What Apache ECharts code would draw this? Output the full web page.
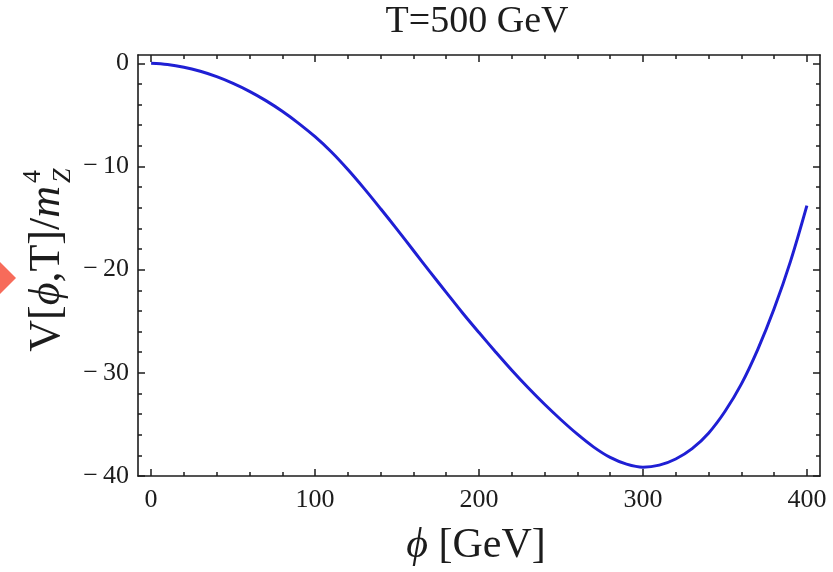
<!DOCTYPE html>
<html>
<head>
<meta charset="utf-8">
<script src="https://cdn.jsdelivr.net/npm/echarts@6/dist/echarts.min.js"></script>
<style>
  html, body { margin: 0; padding: 0; background: #ffffff; }
  #chart { width: 833px; height: 572px; }
</style>
</head>
<body>
<div id="chart"></div>
<script>
// Effective potential at T = 500 GeV, sampled along the field value phi
const phiValues = [
  0, 10, 20, 30, 40, 50, 60, 70, 80, 90,
  100, 110, 120, 130, 140, 150, 160, 170, 180, 190,
  200, 210, 220, 230, 240, 250, 260, 270, 280, 290,
  300, 310, 320, 330, 340, 350, 360, 370, 380, 390, 400
];
const potentialValues = [
  0, -0.12, -0.38, -0.78, -1.3, -1.95, -2.72, -3.62, -4.65, -5.82,
  -7.12, -8.6, -10.3, -12.15, -14.1, -16.1, -18.15, -20.2, -22.2, -24.2,
  -26.1, -27.95, -29.75, -31.45, -33.05, -34.55, -35.95, -37.2, -38.2, -38.85,
  -39.15, -38.95, -38.35, -37.35, -35.85, -33.75, -31.1, -27.75, -23.8, -19.2, -13.8
];

// Tick positions
const xMajorTicks = [0, 100, 200, 300, 400];
const xMinorTicks = [20, 40, 60, 80, 120, 140, 160, 180, 220, 240, 260, 280, 320, 340, 360, 380];
const yMajorTicks = [-40, -30, -20, -10, 0];
const yMinorTicks = [-38, -36, -34, -32, -28, -26, -24, -22, -18, -16, -14, -12, -8, -6, -4, -2];

const plotTitle = 'T=500 GeV';

const SERIF = '"Liberation Serif", "DejaVu Serif", serif';
const INK = '#1c1c1c';
const X_RANGE = [-8, 408];
const Y_RANGE = [-40, 0.8];

const seriesData = phiValues.map((p, i) => [p, potentialValues[i]]);

function frameAxis(position, range, ticks, tickLen, withLine, labels) {
  return {
    type: 'value',
    position: position,
    min: range[0],
    max: range[1],
    splitLine: { show: false },
    axisLine: { show: withLine, onZero: false, lineStyle: { color: INK, width: 1.6 } },
    axisTick: {
      show: true, inside: true, length: tickLen, customValues: ticks,
      lineStyle: { color: INK, width: 1.5 }
    },
    axisLabel: labels ? labels : { show: false }
  };
}

const xLabels = {
  show: true, customValues: xMajorTicks, margin: 11,
  fontFamily: SERIF, fontSize: 26, color: INK
};
const yLabels = {
  show: true, customValues: yMajorTicks, margin: 9,
  fontFamily: SERIF, fontSize: 26, color: INK,
  formatter: v => (v < 0 ? '\u2212\u2009' + Math.abs(v) : String(v))
};

const chart = echarts.init(document.getElementById('chart'), null, { renderer: 'canvas' });

chart.setOption({
  animation: false,
  backgroundColor: '#ffffff',
  grid: { left: 138, right: 13, top: 55, bottom: 96 },
  xAxis: [
    frameAxis('bottom', X_RANGE, xMajorTicks, 7, true, xLabels),
    frameAxis('bottom', X_RANGE, xMinorTicks, 4, false),
    frameAxis('top', X_RANGE, xMajorTicks, 7, true),
    frameAxis('top', X_RANGE, xMinorTicks, 4, false)
  ],
  yAxis: [
    frameAxis('left', Y_RANGE, yMajorTicks, 7, true, yLabels),
    frameAxis('left', Y_RANGE, yMinorTicks, 4, false),
    frameAxis('right', Y_RANGE, yMajorTicks, 7, true),
    frameAxis('right', Y_RANGE, yMinorTicks, 4, false)
  ],
  series: [{
    type: 'line',
    xAxisIndex: 0,
    yAxisIndex: 0,
    data: seriesData,
    smooth: 0.35,
    showSymbol: false,
    lineStyle: { color: '#1f1fd4', width: 3 }
  }],
  graphic: [
    {
      type: 'text', x: 477, y: 22,
      style: {
        text: plotTitle, font: '38px ' + SERIF, fill: INK,
        textAlign: 'center', textVerticalAlign: 'middle'
      }
    },
    {
      type: 'text', x: 476, y: 546,
      style: {
        text: '{i|\u03d5} [GeV]', font: '42px ' + SERIF, fill: INK,
        textAlign: 'center', textVerticalAlign: 'middle',
        rich: { i: { fontStyle: 'italic', fontFamily: SERIF, fontSize: 42, fill: INK } }
      }
    },
    {
      type: 'text', x: 47, y: 186, rotation: Math.PI / 2,
      style: {
        text: 'V[{i|\u03d5},T]/{i|m}', font: '44px ' + SERIF, fill: INK,
        textAlign: 'right', textVerticalAlign: 'middle',
        rich: { i: { fontStyle: 'italic', fontFamily: SERIF, fontSize: 44, fill: INK } }
      }
    },
    {
      type: 'text', x: 33, y: 183, rotation: Math.PI / 2,
      style: {
        text: '4', font: '26px ' + SERIF, fill: INK,
        textAlign: 'left', textVerticalAlign: 'middle'
      }
    },
    {
      type: 'text', x: 63, y: 183, rotation: Math.PI / 2,
      style: {
        text: 'Z', font: 'italic 26px ' + SERIF, fill: INK,
        textAlign: 'left', textVerticalAlign: 'middle'
      }
    },
    {
      type: 'polygon',
      shape: { points: [[0, 262], [16, 278], [0, 294]] },
      style: { fill: '#f76b5a' }
    }
  ]
});
</script>
</body>
</html>
